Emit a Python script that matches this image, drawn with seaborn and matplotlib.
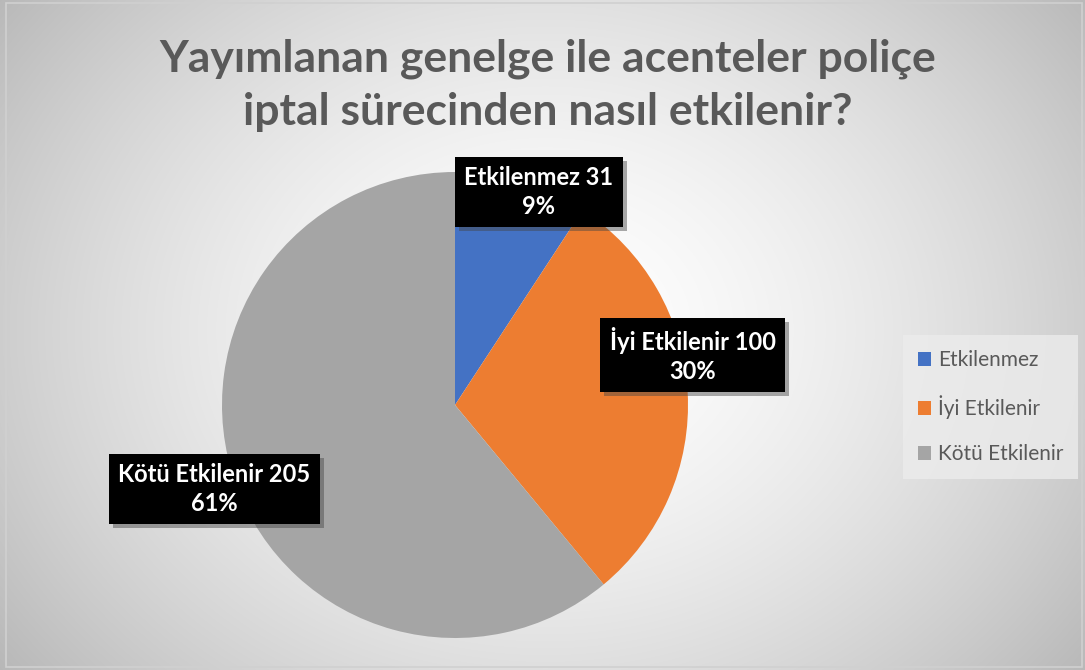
import numpy as np
import matplotlib
matplotlib.use("Agg")
import matplotlib.pyplot as plt
import matplotlib.patheffects as pe
from matplotlib.patches import Rectangle
import seaborn as sns

categories = ["Etkilenmez", "İyi Etkilenir", "Kötü Etkilenir"]
values = [31, 100, 205]
colors = ["#4472C4", "#ED7D31", "#A5A5A5"]
title = "Yayımlanan genelge ile acenteler poliçe\niptal sürecinden nasıl etkilenir?"

sns.set_theme(style="white")
plt.rcParams["font.family"] = ["Lato", "DejaVu Sans"]

W, H = 1085, 670
fig = plt.figure(figsize=(W / 100, H / 100), dpi=100)

# radial gradient background
bg = fig.add_axes([0, 0, 1, 1])
yy, xx = np.mgrid[0:H, 0:W]
cx, cy = 545, 330
r = np.sqrt(((xx - cx) / 640.0) ** 2 + ((yy - cy) / 520.0) ** 2)
g = np.clip(1.0 - 0.25 * r ** 1.6, 0, 1)
img = np.dstack([g, g, g])
bg.imshow(img, extent=[0, W, H, 0], aspect="auto")
bg.set_xlim(0, W)
bg.set_ylim(H, 0)
bg.axis("off")
bg.add_patch(Rectangle((6, 3), W - 9, H - 6, fill=False, edgecolor="#d0d0d0", lw=1.2))

# pie axes
R = 233
pcx, pcy = 455, 405
ax = fig.add_axes([(pcx - R) / W, (H - pcy - R) / H, 2 * R / W, 2 * R / H])
wedges, _ = ax.pie(values, colors=colors, startangle=90, counterclock=False,
                   radius=1.0, wedgeprops=dict(linewidth=0))
ax.set_xlim(-1, 1)
ax.set_ylim(-1, 1)
ax.set_aspect("equal")
ax.axis("off")

total = sum(values)
label_pos = [(0.36, 0.914), (1.02, 0.215), (-1.034, -0.36)]
for cat, v, (lx, ly) in zip(categories, values, label_pos):
    t = ax.text(lx, ly, f"{cat} {v}\n{v / total * 100:.0f}%", ha="center", va="center",
                color="white", fontsize=17, fontweight="bold", linespacing=1.3,
                bbox=dict(boxstyle="square,pad=0.4", facecolor="black", edgecolor="none"),
                zorder=5, clip_on=False)
    t.get_bbox_patch().set_path_effects([
        pe.SimplePatchShadow(offset=(3, -3), shadow_rgbFace="#444444", alpha=0.45),
        pe.Normal()])

fig.text(548 / W, 1 - 85 / H, title, ha="center", va="center", fontsize=32,
         fontweight="bold", color="#595959", linespacing=1.38)

handles = [Rectangle((0, 0), 1, 1, facecolor=c, edgecolor="none") for c in colors]
leg = fig.legend(handles, categories, loc="center left",
                 bbox_to_anchor=(903 / W, 1 - 407 / H), frameon=True,
                 fontsize=15, labelcolor="#595959", handlelength=0.65,
                 handleheight=0.65, handletextpad=0.35, labelspacing=1.2,
                 borderpad=0.7, borderaxespad=0, fancybox=False)
leg.get_frame().set_facecolor("#ececec")
leg.get_frame().set_edgecolor("none")
leg.get_frame().set_alpha(0.8)

fig.savefig("out.png", dpi=100)
